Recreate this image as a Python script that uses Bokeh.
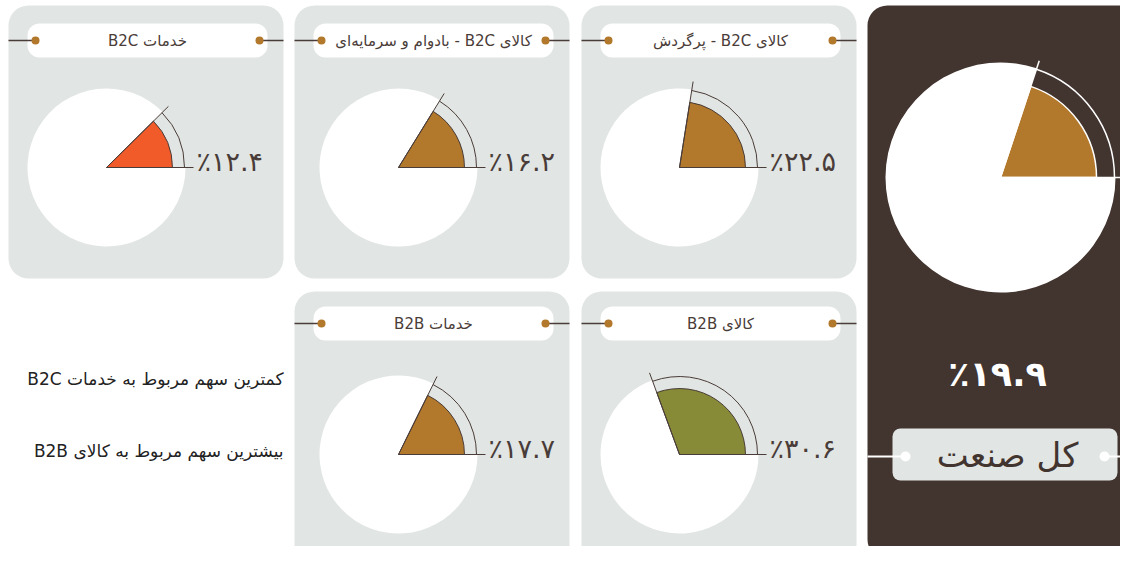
import math
from bokeh.plotting import figure
from bokeh.models import Range1d, ColumnDataSource
from bokeh.core.properties import value
from bokeh.embed import file_html
from bokeh.resources import INLINE

# ---------------- data ----------------
segments = ["خدمات B2C", "کالای B2C - بادوام و سرمایه‌ای", "کالای B2C - پرگردش",
            "خدمات B2B", "کالای B2B"]
shares = [12.4, 16.2, 22.5, 17.7, 30.6]
total_name = "کل صنعت"
total_share = 19.9
notes = ["کمترین سهم مربوط به خدمات B2C", "بیشترین سهم مربوط به کالای B2B"]

# ---------------- style ----------------
BROWN = "#B2782B"
ORANGE = "#F15A29"
OLIVE = "#878A36"
PANEL = "#E1E5E3"
DARK = "#42342F"
INK = "#4A3C38"
FONT = value("DejaVu Sans")

FA = str.maketrans("0123456789", "۰۱۲۳۴۵۶۷۸۹")
def fa_pct(v):
    return "٪" + f"{v:.1f}".translate(FA)

def rtl(s):
    return "\u202B" + s + "\u202C"

W, H = 1120, 546
def Y(py):            # picture pixel row -> data y
    return H - py

p = figure(width=W, height=H, x_range=Range1d(0, W), y_range=Range1d(0, H),
           output_backend="svg", toolbar_location=None, min_border=0,
           x_axis_location=None, y_axis_location=None)
p.grid.visible = False
p.outline_line_color = None
p.background_fill_color = "white"
p.border_fill_color = "white"

# ---------------- layout ----------------
panel_left = [8, 294, 581, 294, 581]
panel_top = [5, 5, 5, 291, 291]
panel_w, panel_h = 275, 273
pie_cx = [106, 398, 679, 398, 679]
pie_cy = [167, 167, 167, 454, 454]
pill_cy = [40, 40, 40, 323, 323]
R = 79

lo, hi = min(shares), max(shares)
colors = [ORANGE if v == lo else OLIVE if v == hi else BROWN for v in shares]
thetas = [v / 100 * 2 * math.pi for v in shares]

# panels
p.quad(left=panel_left, right=[l + panel_w for l in panel_left],
       top=[Y(t) for t in panel_top], bottom=[Y(t + panel_h) for t in panel_top],
       fill_color=PANEL, line_color=None, border_radius=20)

# header pills
pl = [l + 19 for l in panel_left]
pr = [l + 259 for l in panel_left]
p.quad(left=pl, right=pr, top=[Y(c - 17) for c in pill_cy], bottom=[Y(c + 17) for c in pill_cy],
       fill_color="white", line_color=None, border_radius=12)
# connectors
p.segment(x0=panel_left, y0=[Y(c) for c in pill_cy], x1=[x + 8 for x in pl], y1=[Y(c) for c in pill_cy],
          line_color=INK, line_width=1.5)
p.segment(x0=[x - 8 for x in pr], y0=[Y(c) for c in pill_cy], x1=[l + panel_w for l in panel_left],
          y1=[Y(c) for c in pill_cy], line_color=INK, line_width=1.5)
p.scatter(x=[x + 8 for x in pl] + [x - 8 for x in pr], y=[Y(c) for c in pill_cy] * 2,
          size=8, fill_color=BROWN, line_color=None)
p.text(x=[(a + b) / 2 for a, b in zip(pl, pr)], y=[Y(c) for c in pill_cy],
       text=[rtl(s) for s in segments], text_align="center", text_baseline="middle",
       text_font=FONT, text_font_size="15px", text_color=INK)

# pies
src = ColumnDataSource(dict(
    x=pie_cx, y=[Y(c) for c in pie_cy], theta=thetas, color=colors,
    tx=[cx + (R + 8) * math.cos(t) for cx, t in zip(pie_cx, thetas)],
    ty=[Y(cy) + (R + 8) * math.sin(t) for cy, t in zip(pie_cy, thetas)],
    bx=[cx + R + 8 for cx in pie_cx],
    lx=[cx + 90 for cx in pie_cx], ly=[Y(cy) + 6 for cy in pie_cy],
    label=[fa_pct(v) for v in shares],
))
p.wedge(x="x", y="y", radius=R, start_angle="theta", end_angle=2 * math.pi,
        fill_color="white", line_color=None, source=src)
p.wedge(x="x", y="y", radius=R * 0.835, start_angle=0, end_angle="theta",
        fill_color="color", line_color=INK, line_width=1, source=src)
p.arc(x="x", y="y", radius=R - 1, start_angle=0, end_angle="theta",
      line_color=INK, line_width=1, source=src)
p.segment(x0="x", y0="y", x1="tx", y1="ty", line_color=INK, line_width=1, source=src)
p.segment(x0="x", y0="y", x1="bx", y1="y", line_color=INK, line_width=1, source=src)
p.text(x="lx", y="ly", text="label", text_align="left", text_baseline="alphabetic",
       text_font=FONT, text_font_size="27px", text_color=INK, source=src)

# notes
p.text(x=[283, 283], y=[Y(378), Y(450)], text=[rtl(s) for s in notes],
       text_align="right", text_baseline="middle", text_font=FONT,
       text_font_size="17px", text_color="#222222")

# ---------------- total panel ----------------
p.quad(left=[867], right=[1150], top=[Y(5)], bottom=[Y(559)],
       fill_color=DARK, line_color=None, border_radius=20)
TR = 115
tcx, tcy = 1000, 177
tt = total_share / 100 * 2 * math.pi
p.wedge(x=[tcx], y=[Y(tcy)], radius=TR, start_angle=tt, end_angle=2 * math.pi,
        fill_color="white", line_color=None)
p.wedge(x=[tcx], y=[Y(tcy)], radius=TR * 0.835, start_angle=0, end_angle=tt,
        fill_color=BROWN, line_color="white", line_width=1.5)
p.arc(x=[tcx], y=[Y(tcy)], radius=TR - 1, start_angle=0, end_angle=tt,
      line_color="white", line_width=1.5)
p.segment(x0=[tcx, tcx], y0=[Y(tcy), Y(tcy)],
          x1=[tcx + (TR + 8) * math.cos(tt), tcx + TR + 8],
          y1=[Y(tcy) + (TR + 8) * math.sin(tt), Y(tcy)],
          line_color="white", line_width=1.5)
p.text(x=[997], y=[Y(373)], text=[fa_pct(total_share)], text_align="center",
       text_baseline="middle", text_font=FONT, text_font_size="35px",
       text_font_style="bold", text_color="white")
p.quad(left=[892], right=[1117], top=[Y(428)], bottom=[Y(480)],
       fill_color=PANEL, line_color=None, border_radius=8)
p.segment(x0=[867, 1104], y0=[Y(456), Y(456)], x1=[905, 1140], y1=[Y(456), Y(456)],
          line_color="white", line_width=2)
p.scatter(x=[905, 1104], y=[Y(456), Y(456)], size=10, fill_color="white", line_color=None)
p.text(x=[1007], y=[Y(454)], text=[rtl(total_name)], text_align="center",
       text_baseline="middle", text_font=FONT, text_font_size="34px", text_color=DARK)

open("out.html", "w").write(file_html(p, INLINE))
